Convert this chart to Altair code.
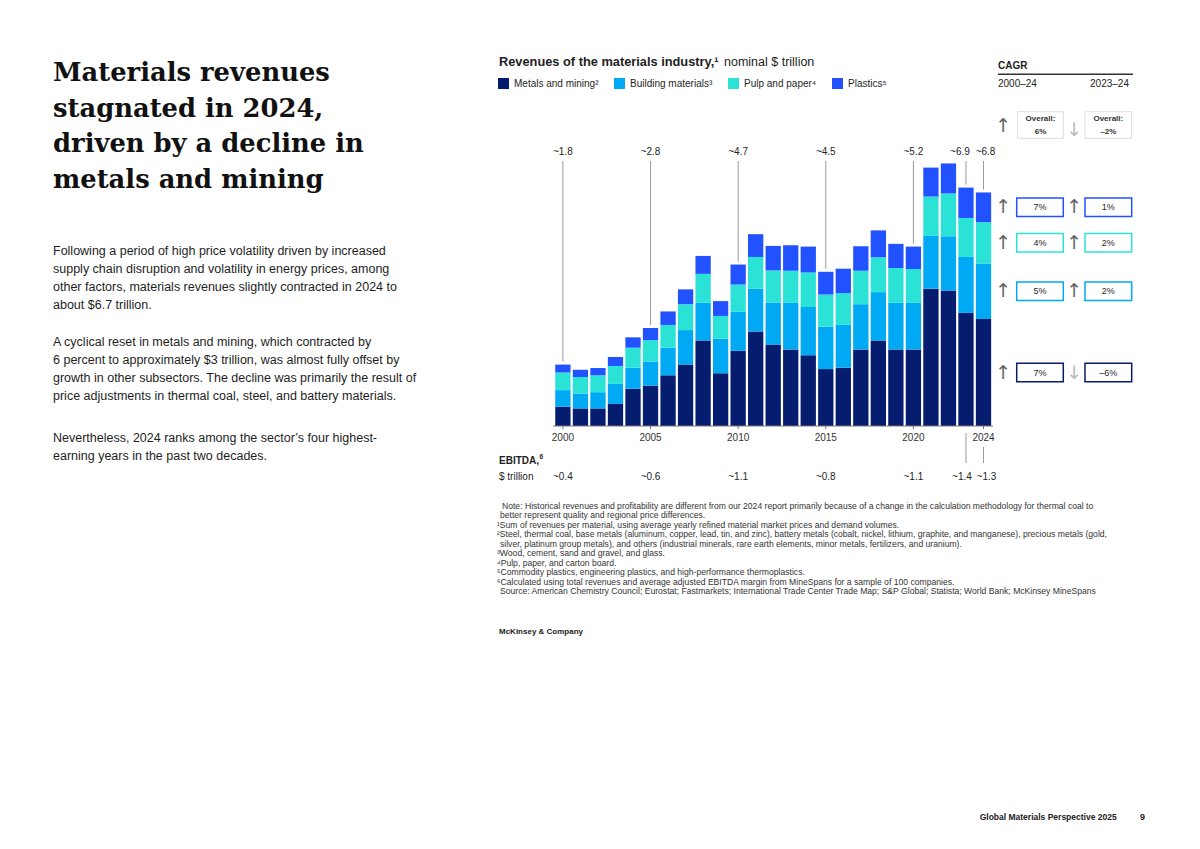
import altair as alt
import pandas as pd

# ---------------- data ----------------
years = list(range(2000, 2025))
metals = [0.56, 0.51, 0.51, 0.64, 1.08, 1.17, 1.47, 1.78, 2.48, 1.53, 2.18, 2.74, 2.36,
          2.22, 2.05, 1.65, 1.69, 2.22, 2.48, 2.22, 2.22, 3.98, 3.93, 3.28, 3.10]
building = [0.48, 0.43, 0.47, 0.58, 0.61, 0.70, 0.80, 1.00, 1.09, 1.00, 1.13, 1.24, 1.22,
            1.35, 1.40, 1.23, 1.24, 1.31, 1.40, 1.35, 1.35, 1.53, 1.57, 1.62, 1.61]
pulp = [0.51, 0.48, 0.49, 0.52, 0.58, 0.62, 0.66, 0.75, 0.84, 0.66, 0.79, 0.92, 0.93,
        0.93, 1.00, 0.93, 0.92, 0.97, 1.01, 1.01, 0.98, 1.14, 1.24, 1.13, 1.20]
plastics = [0.23, 0.21, 0.21, 0.26, 0.30, 0.35, 0.39, 0.43, 0.52, 0.43, 0.58, 0.66, 0.71,
            0.74, 0.75, 0.66, 0.71, 0.71, 0.78, 0.70, 0.65, 0.84, 0.87, 0.88, 0.86]

segment_names = ["Metals and mining²", "Building materials³", "Pulp and paper⁴", "Plastics⁵"]
segment_colors = ["#061C6E", "#00A9F4", "#2AE3D6", "#2251FF"]

label_years = [2000, 2005, 2010, 2015, 2020, 2023, 2024]
revenue_labels = ["~1.8", "~2.8", "~4.7", "~4.5", "~5.2", "~6.9", "~6.8"]
ebitda_labels = ["~0.4", "~0.6", "~1.1", "~0.8", "~1.1", "~1.4", "~1.3"]
axis_years = [2000, 2005, 2010, 2015, 2020, 2024]

# CAGR, same order as segment_names
cagr_long = ["7%", "5%", "4%", "7%"]
cagr_short = ["–6%", "2%", "2%", "1%"]
overall_long = "6%"
overall_short = "–2%"

title_lines = ["Materials revenues", "stagnated in 2024,", "driven by a decline in",
               "metals and mining"]
para1 = ["Following a period of high price volatility driven by increased",
         "supply chain disruption and volatility in energy prices, among",
         "other factors, materials revenues slightly contracted in 2024 to",
         "about $6.7 trillion."]
para2 = ["A cyclical reset in metals and mining, which contracted by",
         "6 percent to approximately $3 trillion, was almost fully offset by",
         "growth in other subsectors. The decline was primarily the result of",
         "price adjustments in thermal coal, steel, and battery materials."]
para3 = ["Nevertheless, 2024 ranks among the sector’s four highest-",
         "earning years in the past two decades."]
notes = [
    "Note: Historical revenues and profitability are different from our 2024 report primarily because of a change in the calculation methodology for thermal coal to",
    "better represent quality and regional price differences.",
    "¹Sum of revenues per material, using average yearly refined material market prices and demand volumes.",
    "²Steel, thermal coal, base metals (aluminum, copper, lead, tin, and zinc), battery metals (cobalt, nickel, lithium, graphite, and manganese), precious metals (gold,",
    "silver, platinum group metals), and others (industrial minerals, rare earth elements, minor metals, fertilizers, and uranium).",
    "³Wood, cement, sand and gravel, and glass.",
    "⁴Pulp, paper, and carton board.",
    "⁵Commodity plastics, engineering plastics, and high-performance thermoplastics.",
    "⁶Calculated using total revenues and average adjusted EBITDA margin from MineSpans for a sample of 100 companies.",
    "Source: American Chemistry Council; Eurostat; Fastmarkets; International Trade Center Trade Map; S&P Global; Statista; World Bank; McKinsey MineSpans",
]

# ---------------- tables ----------------
series = [metals, building, pulp, plastics]
rows = []
for i, yr in enumerate(years):
    for j, name in enumerate(segment_names):
        rows.append({"year": yr, "segment": name, "value": series[j][i], "order": j})
bar_df = pd.DataFrame(rows)

totals = {yr: sum(s[i] for s in series) for i, yr in enumerate(years)}
lab_df = pd.DataFrame({"year": label_years,
                       "total": [totals[y] for y in label_years],
                       "rev": revenue_labels, "ebitda": ebitda_labels})
axis_df = pd.DataFrame({"year": axis_years})
base_df = pd.DataFrame({"x0": [years[0] - 0.56], "x1": [years[-1] + 0.54], "y": [0.0]})

# mid-points of 2024 segments (CAGR boxes line up with them)
mids, acc = [], 0.0
for s in series:
    mids.append(acc + s[-1] / 2)
    acc += s[-1]
cagr_df = pd.DataFrame({"segment": segment_names, "mid": mids,
                        "long": cagr_long, "short": cagr_short})
cagr_df["arrow_long"] = ["↓" if v.startswith("–") else "↑" for v in cagr_long]
cagr_df["arrow_short"] = ["↓" if v.startswith("–") else "↑" for v in cagr_short]

# ---------------- layout ----------------
W, H = 1184, 830
PX_PER_YEAR = 17.525
X2000 = 554.9
PX_PER_T = 34.5
BASE_Y = 418
xd0 = 2000 - X2000 / PX_PER_YEAR
xd1 = xd0 + W / PX_PER_YEAR
yd0 = -(H - BASE_Y) / PX_PER_T
yd1 = BASE_Y / PX_PER_T


def xs():
    return alt.Scale(domain=[xd0, xd1], nice=False, zero=False)


def ys():
    return alt.Scale(domain=[yd0, yd1], nice=False, zero=False)


SANS = "Liberation Sans, Arial, sans-serif"
SERIF = "DejaVu Serif, serif"
ARROW = "DejaVu Sans, sans-serif"
INK = "#1e1e1e"
one = pd.DataFrame({"k": [0]})


def ptext(txt, x, y, size, weight="normal", font=SANS, color=INK, align="left",
          baseline="alphabetic", lh=None):
    props = dict(fontSize=size, fontWeight=weight, font=font, color=color,
                 align=align, baseline=baseline)
    if lh is not None:
        props["lineHeight"] = lh
    return alt.Chart(one).mark_text(**props).encode(
        x=alt.value(x), y=alt.value(y), text=alt.value(txt))


def prect(x0, x1, y0, y1, stroke, sw=1.0):
    return alt.Chart(one).mark_rect(fill="white", stroke=stroke, strokeWidth=sw).encode(
        x=alt.value(x0), x2=alt.value(x1), y=alt.value(y0), y2=alt.value(y1))


layers = []

# bars
bars = alt.Chart(bar_df).transform_stack(
    stack="value", groupby=["year"], as_=["v0", "v1"],
    sort=[alt.SortField(field="order", order="ascending")]
).transform_calculate(
    x0="datum.year - 0.4365", x1="datum.year + 0.4365"
).mark_bar().encode(
    x=alt.X("x0:Q", scale=xs(), axis=None), x2="x1:Q",
    y=alt.Y("v0:Q", scale=ys(), axis=None), y2="v1:Q",
    color=alt.Color("segment:N",
                    scale=alt.Scale(domain=segment_names, range=segment_colors),
                    legend=alt.Legend(orient="none", legendX=490, legendY=70,
                                      direction="horizontal", title=None,
                                      symbolType="square", symbolSize=121,
                                      symbolStrokeWidth=0, labelFont=SANS,
                                      labelFontSize=10, labelColor=INK,
                                      labelOffset=5, columnPadding=15, padding=0)),
)
layers.append(bars)

# baseline and ticks
layers.append(alt.Chart(base_df).mark_rule(color="#777", strokeWidth=1).encode(
    x=alt.X("x0:Q", scale=xs()), x2="x1:Q", y=alt.Y("y:Q", scale=ys())))
layers.append(alt.Chart(axis_df).mark_rule(color="#777", strokeWidth=1).encode(
    x=alt.X("year:Q", scale=xs()), y=alt.value(BASE_Y), y2=alt.value(BASE_Y + 3)))
layers.append(alt.Chart(axis_df).mark_text(font=SANS, fontSize=10, color="#333",
                                           baseline="middle").encode(
    x=alt.X("year:Q", scale=xs()), y=alt.value(429.5), text="year:N"))

# total revenue labels + leaders
layers.append(alt.Chart(lab_df).mark_rule(color="#9a9a9a", strokeWidth=1, yOffset=-3).encode(
    x=alt.X("year:Q", scale=xs()), y=alt.Y("total:Q", scale=ys()), y2=alt.value(153)))
for cond, dx, dxe in [("datum.year <= 2020", 0, 0), ("datum.year == 2023", -6, -4),
                      ("datum.year == 2024", 2, 3)]:
    layers.append(alt.Chart(lab_df).transform_filter(cond).mark_text(
        font=SANS, fontSize=10, color=INK, baseline="middle", dx=dx).encode(
        x=alt.X("year:Q", scale=xs()), y=alt.value(144), text="rev:N"))
    layers.append(alt.Chart(lab_df).transform_filter(cond).mark_text(
        font=SANS, fontSize=10, color=INK, baseline="middle", dx=dxe).encode(
        x=alt.X("year:Q", scale=xs()), y=alt.value(468.7), text="ebitda:N"))

# EBITDA leaders for 2023 / 2024
layers.append(alt.Chart(lab_df).transform_filter("datum.year == 2023").mark_rule(
    color="#9a9a9a", strokeWidth=1).encode(
    x=alt.X("year:Q", scale=xs()), y=alt.value(425), y2=alt.value(455)))
layers.append(alt.Chart(lab_df).transform_filter("datum.year == 2024").mark_rule(
    color="#9a9a9a", strokeWidth=1).encode(
    x=alt.X("year:Q", scale=xs()), y=alt.value(439), y2=alt.value(455)))
layers.append(ptext("EBITDA,", 491, 453, 10, weight="bold", baseline="middle"))
layers.append(ptext("6", 531.5, 449, 6.5, weight="bold", baseline="middle"))
layers.append(ptext("$ trillion", 491, 468.7, 10, baseline="middle"))

# chart title
layers.append(ptext("Revenues of the materials industry,¹", 491, 58, 12.8, weight="bold"))
layers.append(ptext("nominal $ trillion", 716, 58, 12.5))

# CAGR panel
layers.append(ptext("CAGR", 990, 58, 10, weight="bold", baseline="middle"))
layers.append(alt.Chart(one).mark_rule(color="#333", strokeWidth=1.5).encode(
    x=alt.value(990), x2=alt.value(1125), y=alt.value(66.3)))
layers.append(ptext("2000–24", 990, 75.5, 10, baseline="middle"))
layers.append(ptext("2023–24", 1121, 75.5, 10, align="right", baseline="middle"))

# overall row
layers.append(prect(1009.7, 1055.3, 103.7, 130.3, "#dddddd"))
layers.append(prect(1077, 1123.7, 103.7, 130.3, "#dddddd"))
for cx, val in [(1032.5, overall_long), (1100.3, overall_short)]:
    layers.append(ptext("Overall:", cx, 111, 8, weight="bold", align="center", baseline="middle", color="#333"))
    layers.append(ptext(val, cx, 123.5, 8, weight="bold", align="center", baseline="middle", color="#333"))
layers.append(ptext("↑", 995.3, 117.5, 19, font=ARROW, align="center", baseline="middle", color="#666"))
layers.append(ptext("↓", 1066.3, 121.5, 19, font=ARROW, align="center", baseline="middle", color="#bbbbbb"))

# segment rows
stroke_scale = alt.Scale(domain=segment_names, range=segment_colors)
for bx0, bx1, col, acol, ax in [(1008.7, 1055.3, "long", "arrow_long", 995.3),
                                (1077, 1123.7, "short", "arrow_short", 1066.3)]:
    layers.append(alt.Chart(cagr_df).mark_rect(fill="white", strokeWidth=1.5,
                                               yOffset=-9.2, y2Offset=9.2).encode(
        x=alt.value(bx0), x2=alt.value(bx1),
        y=alt.Y("mid:Q", scale=ys()), y2="mid:Q",
        stroke=alt.Stroke("segment:N", scale=stroke_scale, legend=None)))
    layers.append(alt.Chart(cagr_df).mark_text(font=SANS, fontSize=9, color=INK,
                                               baseline="middle", align="center").encode(
        x=alt.value((bx0 + bx1) / 2), y=alt.Y("mid:Q", scale=ys()), text=f"{col}:N"))
    layers.append(alt.Chart(cagr_df).mark_text(font=ARROW, fontSize=19,
                                               baseline="middle", align="center").encode(
        x=alt.value(ax), y=alt.Y("mid:Q", scale=ys()), text=f"{acol}:N",
        color=alt.condition(f"datum.{acol} == '↑'", alt.value("#666"), alt.value("#bbbbbb"))))

# left column text
layers.append(ptext(title_lines, 45, 73, 25.8, weight="bold", font=SERIF, color="#111", lh=35.7))
layers.append(ptext(para1, 45, 247, 12.5, lh=18))
layers.append(ptext(para2, 45, 338, 12.5, lh=18))
layers.append(ptext(para3, 45, 434, 12.5, lh=18))

# notes
for i, line in enumerate(notes):
    x = 489 if line[0] in "¹²³⁴⁵⁶" else (494 if i == 0 else 492)
    layers.append(ptext(line, x, 500.5 + i * 9.55, 8.6, color="#333"))
layers.append(ptext("McKinsey & Company", 491, 624, 8, weight="bold", baseline="middle", color="#222"))

# footer
layers.append(ptext("Global Materials Perspective 2025", 1108.7, 808.7, 8.5, weight="bold",
                    align="right", baseline="middle", color="#222"))
layers.append(ptext("9", 1134.5, 808.7, 9, weight="bold", align="center", baseline="middle", color="#222"))

chart = alt.layer(*layers).properties(
    width=W, height=H, padding=0,
    autosize=alt.AutoSizeParams(type="none"),
    background="white",
).configure_view(stroke=None)

chart.save("out.html", embed_options={"renderer": "svg", "actions": False})
